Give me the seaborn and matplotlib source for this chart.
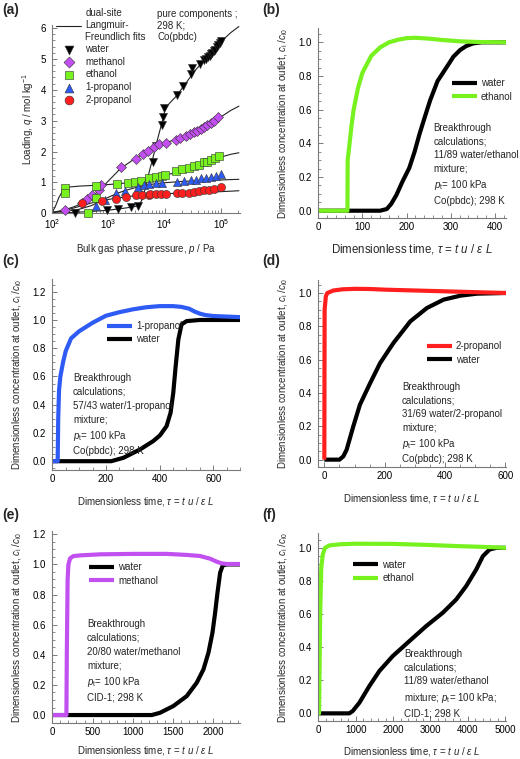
import numpy as np
import pandas as pd
import matplotlib
matplotlib.use("Agg")
import matplotlib.pyplot as plt
from matplotlib.ticker import MultipleLocator, LogLocator, NullFormatter
import seaborn as sns

# ---- panel (a): pure component isotherms, Co(pbdc), 298 K ----
water_p = [255, 950, 1450, 2500, 3300, 6300, 6900, 9000, 9300, 9700, 16300, 21400,
           30000, 30500, 42500, 50000, 55000, 60000, 63000, 67000, 71000, 75000,
           80000, 85000, 90000, 95000, 100000]
water_q = [0.0, 0.11, 0.14, 0.19, 0.23, 1.66, 2.17, 2.86, 3.13, 3.40, 3.83, 4.12,
           4.51, 4.69, 4.85, 4.96, 5.0, 5.05, 5.1, 5.15, 5.2, 5.25,
           5.3, 5.38, 5.45, 5.5, 5.58]
methanol_p = [166, 336, 423, 503, 665, 750, 1700, 3140, 4140, 5080, 6590, 7870, 10400,
              15700, 18700, 23600, 28200, 33200, 38100, 43600, 50000, 57300, 65700,
              75300, 89000]
methanol_q = [0.11, 0.32, 0.46, 0.59, 0.75, 0.9, 1.49, 1.76, 1.92, 2.02, 2.16, 2.23, 2.28,
              2.37, 2.43, 2.51, 2.56, 2.62, 2.66, 2.73, 2.78, 2.85, 2.92,
              2.99, 3.13]
ethanol_p = [166, 166, 430, 597, 597, 1410, 2200, 3020, 3820, 5220, 6900, 9100, 10000,
             15700, 20600, 26800, 33200, 40600, 50000, 57300, 68000, 77400, 93000]
ethanol_q = [0.81, 0.67, 0.0, 0.88, 0.49, 0.94, 0.99, 1.02, 1.05, 1.13, 1.18, 1.2, 1.25,
             1.37, 1.42, 1.48, 1.54, 1.58, 1.65, 1.67, 1.72, 1.78, 1.85]
prop1_p = [600, 880, 1360, 2000, 3320, 4250, 5220, 6900, 9100, 16700, 21800, 28900,
           35600, 43600, 53700, 66000, 81000, 100000]
prop1_q = [0.25, 0.43, 0.65, 0.73, 0.84, 0.92, 0.95, 0.99, 0.99, 1.02, 1.05, 1.07,
           1.09, 1.13, 1.15, 1.18, 1.22, 1.26]
prop2_p = [340, 765, 1380, 2090, 3090, 3980, 5220, 5600, 6900, 8500, 10400, 16700,
           20400, 26900, 33200, 40600, 50000, 61000, 75000, 100000]
prop2_q = [0.34, 0.40, 0.47, 0.53, 0.58, 0.58, 0.58, 0.61, 0.61, 0.61, 0.63, 0.65,
           0.65, 0.67, 0.70, 0.72, 0.74, 0.76, 0.80, 0.84]

# dual-site Langmuir-Freundlich fit curves
fit_water_p = [100, 200, 500, 1000, 2000, 3000, 3500, 4000, 4500, 5000, 5500, 6000,
               6500, 7000, 8000, 9000, 10000, 12000, 15700, 23600, 33200, 57300,
               107000, 150000, 210000]
fit_water_q = [0.0, 0.02, 0.06, 0.1, 0.17, 0.22, 0.26, 0.45, 0.8, 1.15, 1.45, 1.7,
               1.95, 2.2, 2.6, 2.95, 3.3, 3.55, 3.77, 4.2, 4.58, 5.07,
               5.6, 5.85, 6.05]
fit_meoh_p = [100, 130, 166, 250, 336, 500, 700, 1000, 1500, 2000, 3000, 5000, 7000,
              10000, 15000, 20000, 30000, 50000, 70000, 100000, 150000, 210000]
fit_meoh_q = [0.02, 0.06, 0.11, 0.22, 0.32, 0.52, 0.76, 1.05, 1.38, 1.56, 1.78, 2.0, 2.13,
              2.27, 2.38, 2.47, 2.6, 2.8, 2.96, 3.12, 3.33, 3.47]
fit_etoh_p = [100, 115, 130, 150, 166, 200, 300, 500, 1000, 2000, 3000, 5000, 7000,
              10000, 20000, 30000, 50000, 70000, 100000, 150000, 210000]
fit_etoh_q = [0.03, 0.25, 0.5, 0.7, 0.8, 0.85, 0.88, 0.9, 0.93, 0.98, 1.02, 1.09, 1.15,
              1.22, 1.38, 1.48, 1.62, 1.72, 1.82, 1.91, 1.96]
fit_prop1_p = [100, 200, 300, 500, 700, 1000, 1500, 2000, 3000, 5000, 7000, 10000,
               20000, 50000, 100000, 210000]
fit_prop1_q = [0.03, 0.08, 0.13, 0.25, 0.38, 0.52, 0.66, 0.74, 0.83, 0.92, 0.96, 0.99,
               1.03, 1.06, 1.08, 1.1]
fit_prop2_p = [100, 200, 300, 400, 600, 1000, 2000, 3000, 5000, 10000, 20000, 50000,
               100000, 210000]
fit_prop2_q = [0.03, 0.13, 0.22, 0.29, 0.37, 0.45, 0.53, 0.57, 0.6, 0.63, 0.66, 0.68,
               0.7, 0.73]

# ---- panel (b): 11/89 water/ethanol, Co(pbdc) ----
b_water_t = [0, 140, 155, 165, 177, 190, 206, 218, 229, 241, 253, 270, 291, 306, 321,
             335, 351, 370, 425]
b_water_c = [0, 0, 0.01, 0.04, 0.094, 0.17, 0.254, 0.35, 0.454, 0.555, 0.654, 0.77,
             0.854, 0.915, 0.954, 0.978, 0.994, 1.0, 1.0]
b_etoh_t = [0, 66, 66.5, 70, 75, 80, 90, 100, 120, 140, 160, 180, 200, 220, 250, 280,
            320, 360, 425]
b_etoh_c = [0, 0, 0.3, 0.38, 0.5, 0.6, 0.73, 0.82, 0.92, 0.97, 1.0, 1.015, 1.025,
            1.027, 1.022, 1.014, 1.006, 1.002, 1.0]

# ---- panel (c): 57/43 water/1-propanol, Co(pbdc) ----
c_prop1_t = [0, 20, 22, 25, 30, 40, 50, 70, 100, 150, 200, 250, 300, 350, 400, 450,
             480, 510, 530, 550, 570, 600, 650, 700]
c_prop1_c = [0, 0, 0.3, 0.5, 0.6, 0.7, 0.78, 0.87, 0.92, 0.98, 1.03, 1.055, 1.075,
             1.09, 1.098, 1.098, 1.093, 1.08, 1.06, 1.045, 1.035, 1.028, 1.024, 1.02]
c_water_t = [0, 220, 265, 327, 376, 401, 426, 441, 451, 460, 470, 482, 501, 550, 700]
c_water_c = [0, 0, 0.024, 0.083, 0.142, 0.182, 0.248, 0.343, 0.484, 0.673, 0.862,
             0.969, 0.992, 1.0, 1.0]

# ---- panel (d): 31/69 water/2-propanol, Co(pbdc) ----
d_prop2_t = [0, 0.5, 1, 5, 10, 30, 60, 100, 150, 200, 300, 400, 500, 602]
d_prop2_c = [0, 0.5, 0.9, 0.98, 1.0, 1.015, 1.022, 1.025, 1.024, 1.02, 1.015, 1.01,
             1.005, 1.0]
d_water_t = [0, 50, 63, 74, 96, 118, 152, 185, 229, 285, 340, 395, 451, 506, 602]
d_water_c = [0, 0, 0.02, 0.06, 0.2, 0.33, 0.46, 0.58, 0.7, 0.83, 0.91, 0.96, 0.984,
             0.996, 1.0]

# ---- panel (e): 20/80 water/methanol, CID-1 ----
e_water_t = [0, 1234, 1337, 1503, 1669, 1793, 1876, 1938, 1988, 2021, 2050, 2083,
             2116, 2166, 2330]
e_water_c = [0, 0, 0.015, 0.06, 0.126, 0.215, 0.303, 0.414, 0.547, 0.68, 0.812, 0.945,
             0.994, 1.0, 1.0]
e_meoh_t = [0, 175, 180, 190, 200, 220, 260, 344, 592, 1006, 1420, 1669, 1834, 1959,
            2041, 2103, 2166, 2330]
e_meoh_c = [0, 0, 0.4, 0.9, 1.0, 1.04, 1.055, 1.06, 1.067, 1.07, 1.07, 1.063, 1.056,
            1.038, 1.018, 1.007, 1.003, 1.003]

# ---- panel (f): 11/89 water/ethanol, CID-1 ----
f_water_t = [0, 830, 920, 1098, 1366, 1634, 1991, 2438, 2884, 3330, 3687, 3955, 4223,
             4402, 4580, 4759, 5020]
f_water_c = [0, 0, 0.014, 0.064, 0.165, 0.256, 0.346, 0.437, 0.527, 0.608, 0.688,
             0.769, 0.869, 0.95, 0.99, 1.0, 1.0]
f_etoh_t = [0, 20, 30, 50, 80, 120, 180, 300, 600, 1000, 2000, 2900, 3800, 4670, 5020]
f_etoh_c = [0, 0, 0.2, 0.6, 0.88, 0.96, 1.0, 1.015, 1.022, 1.025, 1.024, 1.018, 1.01,
            1.004, 1.0]

BLACK = "#000000"
GREEN = "#77F21E"
BLUE = "#2F5BF5"
RED = "#FF1F1F"
PURPLE = "#C24FEF"
SPINE = "#7a7a7a"

sns.set_theme(style="ticks")
plt.rcParams["font.family"] = ["Liberation Sans", "DejaVu Sans"]
plt.rcParams["mathtext.fontset"] = "custom"
plt.rcParams["mathtext.rm"] = "Liberation Sans"
plt.rcParams["mathtext.it"] = "Liberation Sans:italic"
plt.rcParams["mathtext.bf"] = "Liberation Sans:bold"
plt.rcParams["axes.unicode_minus"] = False

FS = 7
fig = plt.figure(figsize=(5.2, 7.59), dpi=100)

pos = {
    "a": [0.1006, 0.7190, 0.3610, 0.2477],
    "b": [0.6121, 0.7124, 0.3610, 0.2507],
    "c": [0.1006, 0.3812, 0.3610, 0.2512],
    "d": [0.6121, 0.3843, 0.3610, 0.2468],
    "e": [0.1006, 0.0474, 0.3610, 0.2530],
    "f": [0.6121, 0.0501, 0.3610, 0.2477],
}

XLAB = r"Dimensionless time, $\tau$ = $t$ $u$ / $\varepsilon$ $L$"
YLAB = r"Dimensionless concentration at outlet, $c_{\rm i}$ /$c_{\rm i0}$"


def style(ax):
    sns.despine(ax=ax)
    for s in ("left", "bottom"):
        ax.spines[s].set_color(SPINE)
        ax.spines[s].set_linewidth(0.8)
    ax.tick_params(which="both", direction="in", color=SPINE, labelsize=FS,
                   labelcolor="black")
    ax.tick_params(which="major", length=3.5, width=0.7)
    ax.tick_params(which="minor", length=2, width=0.6)
    ax.tick_params(axis="x", pad=3)
    ax.tick_params(axis="y", pad=4.5)
    ax.set_facecolor("white")


def breakthrough(key, curves, xlim, ylim, xmaj, xmin, ymaj, leg_xy, txt, txt_xy,
                 xl_y, yl_x=-0.15, xl_fs=FS):
    ax = fig.add_axes(pos[key])
    for t, c, col, lab in curves:
        sns.lineplot(x=t, y=c, ax=ax, color=col, lw=3.0, label=lab,
                     estimator=None, sort=False, solid_capstyle="butt")
    ax.set_xlim(*xlim)
    ax.set_ylim(*ylim)
    ax.xaxis.set_major_locator(MultipleLocator(xmaj))
    ax.xaxis.set_minor_locator(MultipleLocator(xmin))
    ax.yaxis.set_major_locator(MultipleLocator(ymaj))
    ax.yaxis.set_minor_locator(MultipleLocator(0.05))
    ax.yaxis.set_major_formatter(matplotlib.ticker.FormatStrFormatter("%.1f"))
    style(ax)
    ax.set_xlabel(XLAB, fontsize=xl_fs)
    ax.set_ylabel(YLAB, fontsize=FS)
    ax.xaxis.set_label_coords(0.5, xl_y)
    ax.yaxis.set_label_coords(yl_x, 0.5)
    h, l = ax.get_legend_handles_labels()
    order = [l.index(n) for n in leg_order[key]]
    ax.legend([h[i] for i in order], [l[i] for i in order], loc="upper left",
              bbox_to_anchor=leg_xy, frameon=False, fontsize=FS, handlelength=2.6,
              handletextpad=0.4, labelspacing=0.35, borderpad=0, borderaxespad=0)
    ax.text(txt_xy[0], txt_xy[1], txt, transform=ax.transAxes, fontsize=FS,
            va="top", ha="left", linespacing=1.45)
    return ax


leg_order = {
    "b": ["water", "ethanol"],
    "c": ["1-propanol", "water"],
    "d": ["2-propanol", "water"],
    "e": ["water", "methanol"],
    "f": ["water", "ethanol"],
}

# ---------------- (a) ----------------
ax = fig.add_axes(pos["a"])
fits = [(fit_water_p, fit_water_q), (fit_meoh_p, fit_meoh_q), (fit_etoh_p, fit_etoh_q),
        (fit_prop1_p, fit_prop1_q), (fit_prop2_p, fit_prop2_q)]
for i, (p, q) in enumerate(fits):
    sns.lineplot(x=p, y=q, ax=ax, color="#222222", lw=0.8, estimator=None, sort=False,
                 label="dual-site\nLangmuir-\nFreundlich fits" if i == 0 else None)
marks = [
    (water_p, water_q, "v", BLACK, "water"),
    (methanol_p, methanol_q, "D", PURPLE, "methanol"),
    (ethanol_p, ethanol_q, "s", GREEN, "ethanol"),
    (prop1_p, prop1_q, "^", BLUE, "1-propanol"),
    (prop2_p, prop2_q, "o", RED, "2-propanol"),
]
for p, q, m, col, lab in marks:
    sz = 34 if m != "D" else 26
    sns.scatterplot(x=p, y=q, ax=ax, marker=m, color=col, s=sz, edgecolor="#333333",
                    linewidth=0.4, label=lab, clip_on=False, zorder=3)
ax.set_xscale("log")
ax.set_xlim(100, 2.2e5)
ax.set_ylim(0, 6.09)
ax.xaxis.set_major_locator(LogLocator(base=10))
ax.xaxis.set_minor_locator(LogLocator(base=10, subs=np.arange(2, 10)))
ax.xaxis.set_minor_formatter(NullFormatter())
ax.yaxis.set_major_locator(MultipleLocator(1))
ax.yaxis.set_minor_locator(MultipleLocator(0.2))
style(ax)
ax.set_xlabel(r"Bulk gas phase pressure, $p$ / Pa", fontsize=FS)
ax.set_ylabel(r"Loading, $q$ / mol kg$^{-1}$", fontsize=FS)
ax.xaxis.set_label_coords(0.5, -0.153)
ax.yaxis.set_label_coords(-0.085, 0.5)
ax.legend(loc="upper left", bbox_to_anchor=(0.02, 1.09), frameon=False, fontsize=FS,
          handlelength=2.6, handletextpad=0.4, labelspacing=0.27, borderpad=0,
          borderaxespad=0, markerscale=1.1)
ax.text(0.56, 1.085, "pure components ;\n298 K;\nCo(pbdc)", transform=ax.transAxes,
        fontsize=FS, va="top", ha="left", linespacing=1.15)

# ---------------- (b) ----------------
breakthrough("b", [(b_water_t, b_water_c, BLACK, "water"),
                   (b_etoh_t, b_etoh_c, GREEN, "ethanol")],
             (0, 425), (-0.045, 1.085), 100, 20, 0.2, (0.71, 0.735),
             "Breakthrough\ncalculations;\n11/89 water/ethanol\nmixture;\n"
             "$p_{\\rm t}$= 100 kPa\nCo(pbdc); 298 K", (0.615, 0.5), -0.125,
             xl_fs=8.3)

# ---------------- (c) ----------------
breakthrough("c", [(c_water_t, c_water_c, BLACK, "water"),
                   (c_prop1_t, c_prop1_c, BLUE, "1-propanol")],
             (0, 700), (-0.06, 1.29), 200, 50, 0.2, (0.29, 0.78),
             "Breakthrough\ncalculations;\n57/43 water/1-propanol\nmixture;\n"
             "$p_{\\rm t}$= 100 kPa\nCo(pbdc); 298 K", (0.11, 0.505), -0.131)

# ---------------- (d) ----------------
breakthrough("d", [(d_water_t, d_water_c, BLACK, "water"),
                   (d_prop2_t, d_prop2_c, RED, "2-propanol")],
             (-20, 602), (-0.046, 1.078), 200, 50, 0.2, (0.578, 0.672),
             "Breakthrough\ncalculations;\n31/69 water/2-propanol\nmixture;\n"
             "$p_{\\rm t}$= 100 kPa\nCo(pbdc); 298 K", (0.446, 0.458), -0.13)

# ---------------- (e) ----------------
breakthrough("e", [(e_water_t, e_water_c, BLACK, "water"),
                   (e_meoh_t, e_meoh_c, PURPLE, "methanol")],
             (0, 2330), (-0.053, 1.222), 500, 100, 0.2, (0.195, 0.836),
             "Breakthrough\ncalculations;\n20/80 water/methanol\nmixture;\n"
             "$p_{\\rm t}$= 100 kPa\nCID-1; 298 K", (0.185, 0.54), -0.11)

# ---------------- (f) ----------------
breakthrough("f", [(f_water_t, f_water_c, BLACK, "water"),
                   (f_etoh_t, f_etoh_c, GREEN, "ethanol")],
             (0, 5020), (-0.046, 1.09), 1000, 200, 0.2, (0.185, 0.858),
             "Breakthrough\ncalculations;\n11/89 water/ethanol\nmixture; "
             "$p_{\\rm t}$= 100 kPa;\nCID-1; 298 K", (0.457, 0.382), -0.13)

for lab, x, y in [("(a)", 0.004, 0.987), ("(b)", 0.505, 0.987), ("(c)", 0.004, 0.656),
                  ("(d)", 0.505, 0.656), ("(e)", 0.004, 0.322), ("(f)", 0.505, 0.322)]:
    fig.text(x, y, lab, fontsize=10, fontweight="bold", va="center", ha="left")

fig.savefig("out.png", dpi=100, facecolor="white")
